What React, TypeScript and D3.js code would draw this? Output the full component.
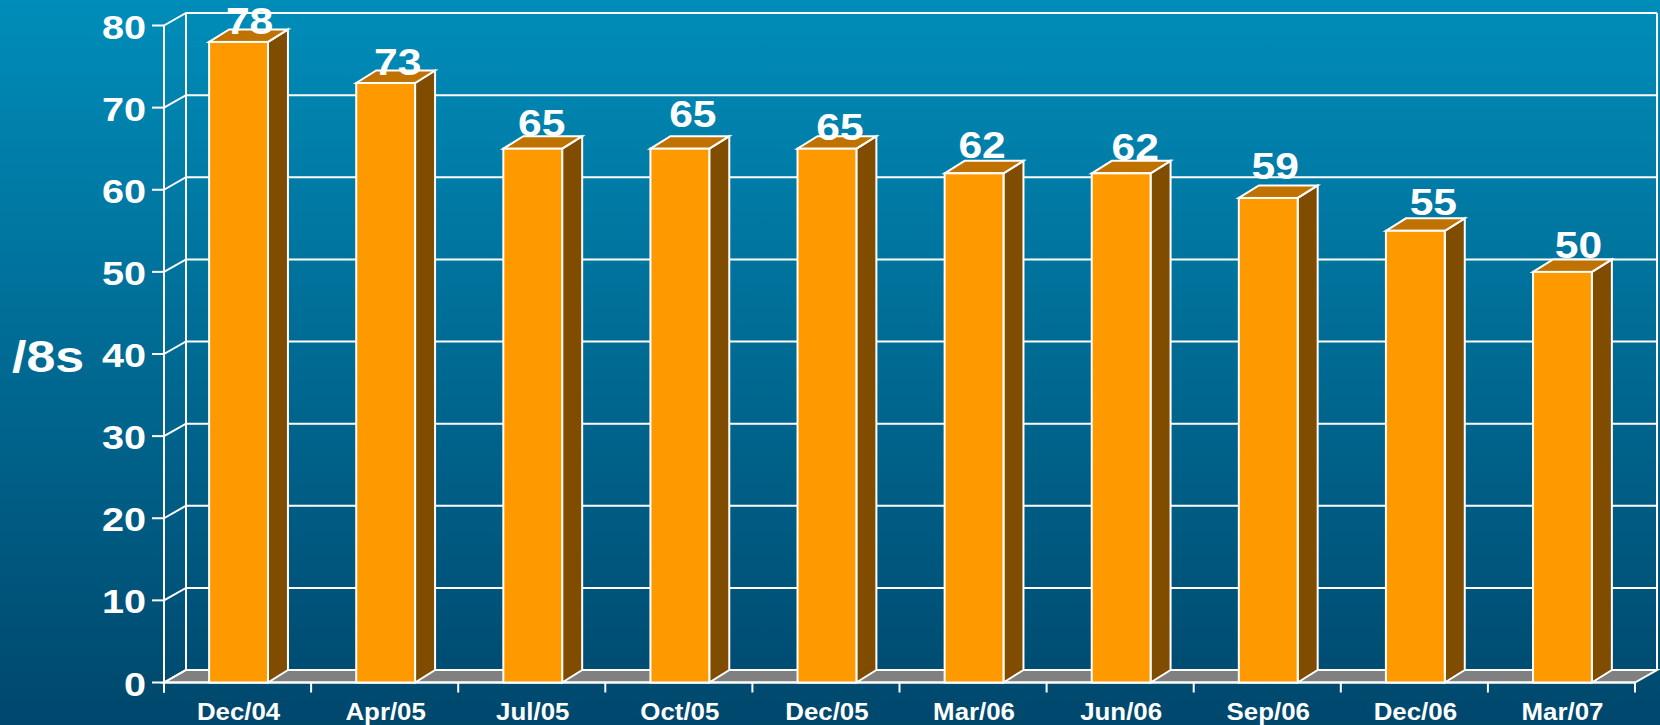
import React from "react";
import * as d3 from "d3";

const categories = ["Dec/04","Apr/05","Jul/05","Oct/05","Dec/05","Mar/06","Jun/06","Sep/06","Dec/06","Mar/07"];
const values = [78,73,65,65,65,62,62,59,55,50];
const yTicks = [0,10,20,30,40,50,60,70,80];
const yLabel = "/8s";
// hand nudges of the value labels relative to the bar's top face
const labelDx = [11,12,9,13,13,8,14,7,18,16];
const labelDy = [1,1,-4,-13,0,-6,-4,-10,-7,-5];

const W = 1660, H = 725;
const front = { left: 164, right: 1635, bottom: 682.5, top: 25.5 };
const depth = { dx: 22, dy: 12.5 };
const barDepth = { dx: 20, dy: 12.5 };

const Stretched = ({ x, y, sx = 1, anchor = "middle", size, children }: any) => (
  <text transform={`translate(${x},${y}) scale(${sx},1)`} textAnchor={anchor} fontSize={size}
    fontFamily="'Liberation Sans', Arial, sans-serif" fontWeight="bold" fill="#fff">{children}</text>
);

export default function App() {
  const y = d3.scaleLinear().domain([0, 80]).range([front.bottom, front.top]);
  const x = d3.scaleBand<string>().domain(categories).range([front.left + 1, front.right + 1]).paddingInner(0.6).paddingOuter(0.3);
  const band = (front.right - front.left) / categories.length;
  const line = { stroke: "#fff", strokeWidth: 2, fill: "none" };
  const poly = d3.line();
  const pts = (p: [number, number][]) => poly(p) + "Z";
  return (
    <svg width={W} height={H} style={{ position: "absolute", left: 0, top: 0, display: "block" }}>
      <defs>
        <linearGradient id="bg" x1="0" y1="0" x2="0" y2="1">
          <stop offset="0" stopColor="#008db9" />
          <stop offset="1" stopColor="#00476c" />
        </linearGradient>
      </defs>
      <rect width={W} height={H} fill="url(#bg)" />
      {/* floor */}
      <path d={pts([[front.left, front.bottom],[front.left + depth.dx, front.bottom - depth.dy],[front.right + depth.dx, front.bottom - depth.dy],[front.right, front.bottom]])} fill="#808080" stroke="#fff" strokeWidth={2} />
      {/* walls + grid */}
      {yTicks.map(t => (
        <g key={t}>
          <line x1={front.left - 12} x2={front.left} y1={y(t)} y2={y(t)} {...line} />
          <path d={`M${front.left},${y(t)}L${front.left + depth.dx},${y(t) - depth.dy}L${front.right + depth.dx},${y(t) - depth.dy}`} {...line} />
          <Stretched x={front.left - 18} y={y(t) + 13} sx={1.2} anchor="end" size={33}>{t}</Stretched>
        </g>
      ))}
      <line x1={front.left} x2={front.left} y1={front.top} y2={front.bottom + 10} {...line} />
      <line x1={front.left + depth.dx} x2={front.left + depth.dx} y1={front.top - depth.dy} y2={front.bottom - depth.dy} {...line} />
      <line x1={front.right + depth.dx} x2={front.right + depth.dx} y1={front.top - depth.dy} y2={front.bottom - depth.dy} {...line} />
      <line x1={front.left} x2={front.right} y1={front.bottom} y2={front.bottom} {...line} />
      {d3.range(categories.length + 1).map(i => (
        <line key={i} x1={front.left + i * band} x2={front.left + i * band} y1={front.bottom} y2={front.bottom + 10} {...line} />
      ))}
      {/* bars */}
      {categories.map((c, i) => {
        const l = x(c)!, r = l + x.bandwidth(), t = y(values[i]), b = y(0);
        const { dx, dy } = barDepth;
        return (
          <g key={c}>
            <path d={pts([[r, t],[r + dx, t - dy],[r + dx, b - dy],[r, b]])} fill="#7f4c00" stroke="#fff" strokeWidth={2} />
            <path d={pts([[l, t],[l + dx, t - dy],[r + dx, t - dy],[r, t]])} fill="#bf7200" stroke="#fff" strokeWidth={2} />
            <rect x={l} y={t} width={r - l} height={b - t} fill="#ff9900" stroke="#fff" strokeWidth={2} />
          </g>
        );
      })}
      {categories.map((c) => (
        <Stretched key={c} x={x(c)! + x.bandwidth() / 2} y={720} sx={1.1} size={23.5}>{c}</Stretched>
      ))}
      {values.map((v, i) => (
        <Stretched key={i} x={x(categories[i])! + x.bandwidth() / 2 + labelDx[i]} y={y(v) - 9 + labelDy[i]} sx={1.15} size={37}>{v}</Stretched>
      ))}
      <Stretched x={12} y={372} anchor="start" sx={1.18} size={44}>{yLabel}</Stretched>
    </svg>
  );
}
